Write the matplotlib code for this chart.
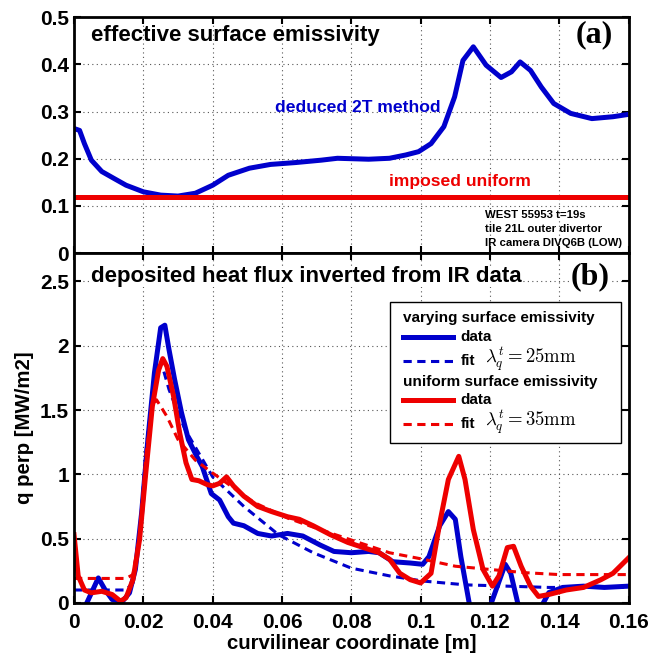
import numpy as np
import matplotlib
matplotlib.use("Agg")
import matplotlib.pyplot as plt
from matplotlib.patches import Rectangle
from matplotlib.lines import Line2D

plt.rcParams['font.family'] = ['Liberation Sans', 'DejaVu Sans']
plt.rcParams['font.weight'] = 'bold'
plt.rcParams['mathtext.fontset'] = 'cm'

BLUE = '#0000cc'
RED = '#ee0000'

# (a) effective emissivity deduced with the 2T method
eps_x = [0.0, 0.0016, 0.003, 0.005, 0.008, 0.0116, 0.015, 0.020, 0.025, 0.030,
         0.035, 0.040, 0.0445, 0.0506, 0.0567, 0.064, 0.0713, 0.076, 0.085, 0.091,
         0.0957, 0.0994, 0.103, 0.1067, 0.1098, 0.1122, 0.1152, 0.1189, 0.1232, 0.1262,
         0.1287, 0.1317, 0.1348, 0.1384, 0.1433, 0.1494, 0.1555, 0.16]
eps_2t = [0.264, 0.26, 0.232, 0.197, 0.173, 0.158, 0.144, 0.130, 0.123, 0.121,
          0.127, 0.144, 0.165, 0.180, 0.188, 0.192, 0.197, 0.201, 0.199, 0.201,
          0.208, 0.215, 0.232, 0.268, 0.331, 0.408, 0.437, 0.398, 0.372, 0.384,
          0.405, 0.387, 0.352, 0.317, 0.296, 0.285, 0.289, 0.294]
eps_uniform = 0.12

# (b) heat flux, varying emissivity
qv_x = [0.0, 0.0037, 0.007, 0.009, 0.011, 0.014, 0.016, 0.0177, 0.0195, 0.0213,
        0.0232, 0.025, 0.0262, 0.0274, 0.029, 0.031, 0.033, 0.0354, 0.037, 0.0396,
        0.042, 0.0445, 0.046, 0.049, 0.053, 0.057, 0.0616, 0.066, 0.071, 0.075,
        0.080, 0.085, 0.088, 0.092, 0.097, 0.1006, 0.1024, 0.1055, 0.108, 0.110,
        0.1116, 0.114, 0.117, 0.1204, 0.1244, 0.126, 0.128, 0.132, 0.1354, 0.137,
        0.141, 0.147, 0.153, 0.16]
qv = [-0.15, 0.0, 0.194, 0.10, 0.026, 0.013, 0.078, 0.26, 0.70, 1.27,
      1.79, 2.14, 2.16, 1.97, 1.74, 1.48, 1.27, 1.14, 1.06, 0.85,
      0.80, 0.67, 0.62, 0.60, 0.54, 0.52, 0.54, 0.52, 0.45, 0.40,
      0.39, 0.40, 0.39, 0.32, 0.31, 0.30, 0.36, 0.60, 0.71, 0.65,
      0.36, 0.0, -0.3, 0.0, 0.30, 0.23, 0.0, -0.2, 0.0, 0.08,
      0.12, 0.13, 0.12, 0.13]

qv_fit_x = [0.0, 0.015, 0.017, 0.019, 0.0207, 0.0226, 0.0244, 0.0256, 0.0274, 0.030,
            0.032, 0.040, 0.049, 0.059, 0.069, 0.080, 0.091, 0.1006, 0.113, 0.125,
            0.137, 0.16]
qv_fit = [0.10, 0.10, 0.155, 0.54, 1.17, 1.61, 1.84, 1.83, 1.66, 1.48,
          1.35, 0.98, 0.75, 0.53, 0.39, 0.27, 0.21, 0.17, 0.14, 0.13,
          0.12, 0.12]

# (b) heat flux, uniform emissivity
qu_x = [0.0, 0.0012, 0.003, 0.005, 0.008, 0.011, 0.0134, 0.015, 0.017, 0.0189,
        0.0207, 0.0226, 0.0244, 0.0256, 0.0268, 0.0287, 0.0305, 0.0323, 0.034, 0.036,
        0.0384, 0.040, 0.042, 0.044, 0.046, 0.049, 0.053, 0.057, 0.0616, 0.065,
        0.069, 0.074, 0.079, 0.0835, 0.088, 0.091, 0.094, 0.097, 0.100, 0.103,
        0.1055, 0.108, 0.111, 0.1128, 0.1152, 0.118, 0.1207, 0.1226, 0.125, 0.1268,
        0.129, 0.1317, 0.134, 0.137, 0.142, 0.147, 0.152, 0.1555, 0.16]
qu = [0.53, 0.21, 0.10, 0.078, 0.09, 0.065, 0.013, 0.04, 0.18, 0.49,
      1.01, 1.53, 1.81, 1.90, 1.84, 1.61, 1.32, 1.09, 0.96, 0.95,
      0.92, 0.91, 0.93, 0.98, 0.91, 0.83, 0.75, 0.71, 0.67, 0.65,
      0.60, 0.53, 0.47, 0.43, 0.39, 0.34, 0.23, 0.18, 0.155, 0.23,
      0.62, 0.96, 1.14, 0.96, 0.57, 0.26, 0.13, 0.21, 0.43, 0.44,
      0.285, 0.13, 0.05, 0.065, 0.10, 0.12, 0.18, 0.23, 0.35]

qu_fit_x = [0.0, 0.015, 0.017, 0.019, 0.0207, 0.0226, 0.0238, 0.0268, 0.030, 0.035,
            0.040, 0.052, 0.0616, 0.071, 0.081, 0.091, 0.1006, 0.11, 0.120, 0.13,
            0.14, 0.15, 0.16]
qu_fit = [0.19, 0.19, 0.22, 0.54, 1.14, 1.53, 1.58, 1.45, 1.27, 1.11,
          1.01, 0.78, 0.66, 0.57, 0.48, 0.39, 0.34, 0.285, 0.26, 0.235,
          0.22, 0.22, 0.22]

x_ticks = [0, 0.02, 0.04, 0.06, 0.08, 0.1, 0.12, 0.14, 0.16]
x_ticklabels = ['0', '0.02', '0.04', '0.06', '0.08', '0.1', '0.12', '0.14', '0.16']


def style_axes(ax):
    ax.grid(True, linestyle=(0, (1, 3)), color='#555555', linewidth=0.8)
    ax.tick_params(direction='in', top=True, right=True, length=5, width=1.5,
                   labelsize=15)
    ax.tick_params(axis='x', pad=7)
    for s in ax.spines.values():
        s.set_linewidth(2)
    for lab in ax.get_xticklabels() + ax.get_yticklabels():
        lab.set_fontweight('bold')


fig = plt.figure(figsize=(6.61, 6.56), dpi=100)
ax1 = fig.add_axes([0.112, 0.614, 0.839, 0.36])
ax2 = fig.add_axes([0.112, 0.081, 0.839, 0.533])

# --- panel (a)
ax1.plot(eps_x, eps_2t, color=BLUE, lw=3.6, solid_capstyle='butt')
ax1.axhline(eps_uniform, color=RED, lw=3.6)
ax1.set_xlim(0, 0.16)
ax1.set_ylim(0, 0.5)
ax1.set_xticks(x_ticks)
ax1.set_xticklabels([])
ax1.set_yticks([0, 0.1, 0.2, 0.3, 0.4, 0.5])
ax1.set_yticklabels(['0', '0.1', '0.2', '0.3', '0.4', '0.5'])
style_axes(ax1)

ax1.text(0.0049, 0.462, 'effective surface emissivity', fontsize=16,
         fontweight='bold', va='center', ha='left')
ax1.text(0.150, 0.462, '(a)', fontsize=23, fontweight='bold', va='center',
         ha='center', family=['Liberation Serif', 'DejaVu Serif'])
ax1.text(0.082, 0.308, 'deduced 2T method', fontsize=12.6, fontweight='bold',
         color=BLUE, va='center', ha='center')
ax1.text(0.1113, 0.151, 'imposed uniform', fontsize=12.6, fontweight='bold',
         color=RED, va='center', ha='center')
for yy, line in zip([0.081, 0.051, 0.021],
                    ['WEST 55953 t=19s', 'tile 21L outer divertor',
                     'IR camera DIVQ6B (LOW)']):
    ax1.text(0.1185, yy, line, fontsize=8.2, fontweight='bold', va='center',
             ha='left')

# --- panel (b)
ax2.plot(qv_x, qv, color=BLUE, lw=3.6)
ax2.plot(qv_fit_x, qv_fit, color=BLUE, lw=2.2, dashes=(2.7, 1.8))
ax2.plot(qu_x, qu, color=RED, lw=3.6)
ax2.plot(qu_fit_x, qu_fit, color=RED, lw=2.2, dashes=(2.7, 1.8))
ax2.set_xlim(0, 0.16)
ax2.set_ylim(0, 2.72)
ax2.set_xticks(x_ticks)
ax2.set_xticklabels(x_ticklabels)
ax2.set_yticks([0, 0.5, 1, 1.5, 2, 2.5])
ax2.set_yticklabels(['0', '0.5', '1', '1.5', '2', '2.5'])
style_axes(ax2)
ax2.set_xlabel('curvilinear coordinate [m]', fontsize=14.7, fontweight='bold',
               labelpad=2)
ax2.set_ylabel('q perp [MW/m2]', fontsize=14.7, fontweight='bold', labelpad=4)

ax2.text(0.0049, 2.535, 'deposited heat flux inverted from IR data',
         fontsize=16, fontweight='bold', va='center', ha='left',
         bbox=dict(facecolor='white', edgecolor='none', pad=0))
ax2.text(0.149, 2.535, '(b)', fontsize=23, fontweight='bold', va='center',
         ha='center', family=['Liberation Serif', 'DejaVu Serif'],
         bbox=dict(facecolor='white', edgecolor='none', pad=0))

# legend drawn by hand so the group headers sit flush left
T = ax2.transAxes
ax2.add_patch(Rectangle((0.569, 0.457), 0.418, 0.403, transform=T,
                        facecolor='white', edgecolor='black', lw=1.0, zorder=5))
hx0, hx1, tx, mx = 0.593, 0.683, 0.697, 0.741
rows = [
    (0.814, 'header', 'varying surface emissivity', None, None, None),
    (0.760, 'line', 'data', BLUE, '-', None),
    (0.691, 'line', 'fit', BLUE, '--', r'$\lambda_q^t = 25\mathrm{mm}$'),
    (0.631, 'header', 'uniform surface emissivity', None, None, None),
    (0.580, 'line', 'data', RED, '-', None),
    (0.511, 'line', 'fit', RED, '--', r'$\lambda_q^t = 35\mathrm{mm}$'),
]
for yy, kind, label, col, ls, math in rows:
    if kind == 'header':
        ax2.text(hx0, yy, label, transform=T, fontsize=11, fontweight='bold',
                 va='center', ha='left', zorder=6)
        continue
    if ls == '-':
        ln = Line2D([hx0, hx1], [yy, yy], transform=T, color=col, lw=3.6,
                    zorder=6)
    else:
        ln = Line2D([hx0, hx1], [yy, yy], transform=T, color=col, lw=2.2,
                    dashes=(2.7, 1.8), zorder=6)
    ax2.add_line(ln)
    ax2.text(tx, yy, label, transform=T, fontsize=11, fontweight='bold',
             va='center', ha='left', zorder=6)
    if math:
        ax2.text(mx, yy + 0.006, math, transform=T, fontsize=13.5,
                 va='center', ha='left', zorder=6)

fig.savefig('out.png', dpi=100)
